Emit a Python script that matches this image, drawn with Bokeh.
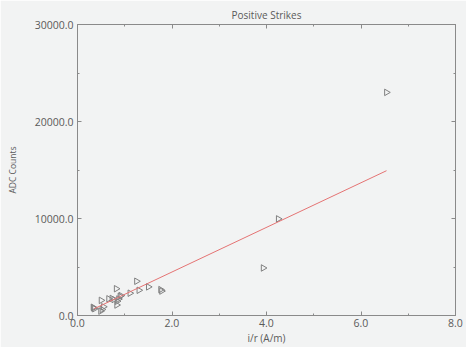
import numpy as np
from bokeh.plotting import figure
from bokeh.models import LinearAxis, Range1d, SingleIntervalTicker, NumeralTickFormatter, ColumnDataSource
from bokeh.embed import file_html
from bokeh.resources import INLINE

# data
ir_values = [0.33, 0.34, 0.36, 0.49, 0.50, 0.52, 0.55, 0.66, 0.73, 0.77, 0.82, 0.83,
             0.84, 0.87, 0.90, 0.92, 1.11, 1.25, 1.30, 1.50, 1.76, 1.78, 3.93, 4.25, 6.54]
adc_counts = [850, 780, 700, 450, 1560, 620, 900, 1720, 1760, 1650, 2760, 1080,
              1470, 1700, 1980, 2050, 2300, 3530, 2600, 2950, 2670, 2520, 4900, 9960, 23000]
fit_slope = 2300.0
fit_intercept = -115.0
fit_x = [0.35, 6.54]

title_text = "Positive Strikes"
x_label = "i/r (A/m)"
y_label = "ADC Counts"
x_ticks = [0, 2, 4, 6, 8]
y_ticks = [0, 10000, 20000, 30000]

BG = "#f2f3f3"
TXT = "#5a5a5a"
FONT = "Open Sans"

p = figure(width=466, height=347, output_backend="svg", toolbar_location=None,
           x_range=Range1d(0, 8), y_range=Range1d(0, 30000),
           min_border_left=77, min_border_right=11, min_border_top=24, min_border_bottom=31,
           background_fill_color=BG, border_fill_color=BG)
p.title.text = title_text
p.title.align = "center"
p.title.text_font = FONT
p.title.text_font_size = "10px"
p.title.text_font_style = "normal"
p.title.text_color = TXT
p.title.standoff = 6
p.grid.visible = False
p.outline_line_color = "#8a8a8a"
p.outline_line_width = 1

src = ColumnDataSource(dict(x=ir_values, y=adc_counts))
p.scatter("x", "y", source=src, marker="triangle", size=6.5, angle=-np.pi / 2,
          fill_color=None, line_color="#808080", line_width=1)

fit_y = [fit_slope * v + fit_intercept for v in fit_x]
p.line(fit_x, fit_y, line_color="#e57373", line_width=1)

def style(ax, ticker, ticks, labels=True):
    ax.ticker = ticker
    ax.axis_line_color = None
    ax.major_tick_in = 4
    ax.major_tick_out = 0
    ax.minor_tick_in = 2
    ax.minor_tick_out = 0
    ax.major_tick_line_color = "#8a8a8a"
    ax.minor_tick_line_color = "#8a8a8a"
    if labels:
        ax.formatter = NumeralTickFormatter(format="0.0")
        ax.major_label_text_font = FONT
        ax.major_label_text_font_size = "10.5px"
        ax.major_label_text_color = TXT
        ax.axis_label_text_font = FONT
        ax.axis_label_text_font_style = "normal"
        ax.axis_label_text_color = TXT
    else:
        ax.major_label_overrides = {t: "" for t in ticks}
        ax.major_label_text_font_size = "1px"
        ax.major_label_standoff = 0

xt = SingleIntervalTicker(interval=2, num_minor_ticks=2)
yt = SingleIntervalTicker(interval=10000, num_minor_ticks=2)

style(p.xaxis[0], xt, x_ticks)
p.xaxis[0].axis_label = x_label
p.xaxis[0].axis_label_text_font_size = "10px"
p.xaxis[0].axis_label_standoff = 1
p.xaxis[0].major_label_standoff = 3

style(p.yaxis[0], yt, y_ticks)
p.yaxis[0].axis_label = y_label
p.yaxis[0].axis_label_text_font_size = "8.5px"
p.yaxis[0].axis_label_standoff = 14
p.yaxis[0].major_label_standoff = 4

top = LinearAxis()
style(top, SingleIntervalTicker(interval=2, num_minor_ticks=2), x_ticks, labels=False)
p.add_layout(top, "above")
right = LinearAxis()
style(right, SingleIntervalTicker(interval=10000, num_minor_ticks=2), y_ticks, labels=False)
p.add_layout(right, "right")

open("out.html", "w").write(file_html(p, INLINE))
